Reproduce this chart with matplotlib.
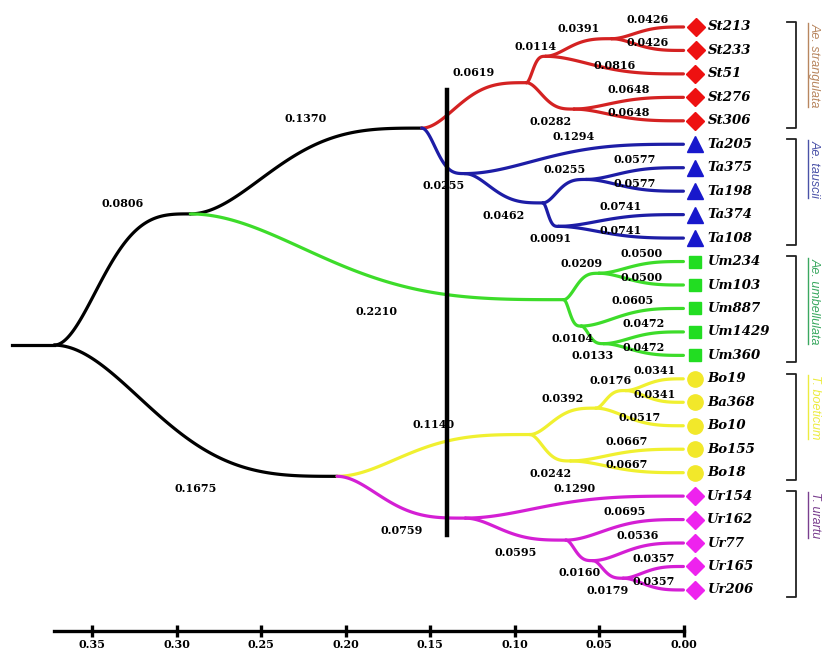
import numpy as np
import matplotlib
matplotlib.use("Agg")
import matplotlib.pyplot as plt
import matplotlib.transforms as mtransforms

# ---- tree data (Newick, branch lengths = distances) ----
group_names = ["Ae. strangulata", "Ae. tauscii", "Ae. umbellulata", "T. boeticum", "T. urartu"]
strangulata_nwk = "(((St213:0.0426,St233:0.0426):0.0391,St51:0.0816):0.0114,(St276:0.0648,St306:0.0648):0.0282)"
tauscii_nwk = "(Ta205:0.1294,((Ta375:0.0577,Ta198:0.0577):0.0255,(Ta374:0.0741,Ta108:0.0741):0.0091):0.0462)"
umbellulata_nwk = "((Um234:0.0500,Um103:0.0500):0.0209,(Um887:0.0605,(Um1429:0.0472,Um360:0.0472):0.0133):0.0104)"
boeticum_nwk = "(((Bo19:0.0341,Ba368:0.0341):0.0176,Bo10:0.0517):0.0392,(Bo155:0.0667,Bo18:0.0667):0.0242)"
urartu_nwk = "(Ur154:0.1290,(Ur162:0.0695,(Ur77:0.0536,(Ur165:0.0357,Ur206:0.0357):0.0179):0.0160):0.0595)"
group_stems = [0.0619, 0.0255, 0.2210, 0.1140, 0.0759]
ae_upper_stem = 0.1370   # strangulata + tauscii
ae_stem = 0.0806         # Aegilops clade
t_stem = 0.1675          # Triticum clade
scale_ticks = [0.35, 0.30, 0.25, 0.20, 0.15, 0.10, 0.05, 0.00]
cut_depth = 0.14

branch_colors = ["#d42222", "#1d1da6", "#3ddc2a", "#f0f030", "#d41fd4"]
marker_colors = ["#ee1111", "#1818cc", "#22dd22", "#f2e82a", "#ee22ee"]
marker_shapes = ["D", "^", "s", "o", "D"]
marker_sizes = [9, 11, 9, 11, 9]
label_colors = ["#b8865f", "#4a52a8", "#3aa860", "#ecec40", "#7a3f8f"]


def parse_newick(s):
    s = s.replace(" ", "")
    pos = 0

    def node():
        nonlocal pos
        children = []
        if s[pos] == "(":
            pos += 1
            while True:
                children.append(node())
                if s[pos] == ",":
                    pos += 1
                    continue
                if s[pos] == ")":
                    pos += 1
                    break
        start = pos
        while pos < len(s) and s[pos] not in ":,()":
            pos += 1
        name = s[start:pos]
        length = 0.0
        if pos < len(s) and s[pos] == ":":
            pos += 1
            start = pos
            while pos < len(s) and s[pos] not in ",()":
                pos += 1
            length = float(s[start:pos])
        return {"name": name, "length": length, "children": children}

    return node()


def paint(node, gi):
    node["group"] = gi
    for c in node["children"]:
        paint(c, gi)


groups = []
for gi, (nwk, stem) in enumerate(zip(
        [strangulata_nwk, tauscii_nwk, umbellulata_nwk, boeticum_nwk, urartu_nwk], group_stems)):
    g = parse_newick(nwk)
    g["length"] = stem
    paint(g, gi)
    groups.append(g)


def inner(children, length):
    return {"name": "", "length": length, "children": children, "group": None}


ae_upper = inner([groups[0], groups[1]], ae_upper_stem)
ae = inner([ae_upper, groups[2]], ae_stem)
tr = inner([groups[3], groups[4]], t_stem)
root = inner([ae, tr], 0.0)

# ---- layout ----
leaves = []


def layout(node, dist):
    node["dist"] = dist + node["length"]
    if not node["children"]:
        node["y"] = float(len(leaves))
        leaves.append(node)
    else:
        for c in node["children"]:
            layout(c, node["dist"])
        node["y"] = np.mean([c["y"] for c in node["children"]])


layout(root, 0.0)
depth = max(l["dist"] for l in leaves)


def set_x(node):
    node["x"] = depth - node["dist"]
    for c in node["children"]:
        set_x(c)


set_x(root)

# ---- figure ----
fig = plt.figure(figsize=(8.29, 6.5), dpi=100)
ax = fig.add_axes([0, 0, 1, 1])
ax.set_xlim(depth * 1.086, -depth * 0.231)
ax.set_ylim(26.56, -1.15)

num_font = dict(family="DejaVu Serif", fontweight="bold", fontsize=8)


def curve(x0, y0, x1, y1, n=100):
    # smooth S-shaped connector, horizontal at both ends, bend nearer the parent
    t = np.linspace(0, 1, n)
    u = 1 - (1 - t) ** 1.6
    s = 0.5 * (1 - np.cos(np.pi * u))
    return x0 + (x1 - x0) * t, y0 + (y1 - y0) * s


def draw(node):
    for i, c in enumerate(node["children"]):
        col = "black" if c["group"] is None else branch_colors[c["group"]]
        xs, ys = curve(node["x"], node["y"], c["x"], c["y"])
        ax.plot(xs, ys, color=col, lw=2.3, solid_capstyle="round", zorder=2)
        xm = 0.5 * (node["x"] + c["x"])
        if not c["children"]:
            yl = c["y"] - 0.34
        elif i == 0:
            yl = c["y"] - 0.43
        else:
            yl = c["y"] + 0.52
        ax.text(xm, yl, f"{c['length']:.4f}", ha="center", va="center", zorder=5, **num_font)
        draw(c)


draw(root)
# root stub
ax.plot([root["x"], root["x"] + 0.025], [root["y"], root["y"]], color="black", lw=2.3, zorder=2)

# cut line
ax.plot([cut_depth, cut_depth], [2.7, 21.65], color="black", lw=3.2, zorder=4)

# leaf markers and names
mk_tr = mtransforms.offset_copy(ax.transData, fig=fig, x=12, y=0, units="dots")
nm_tr = mtransforms.offset_copy(ax.transData, fig=fig, x=24, y=0, units="dots")
for lf in leaves:
    g = lf["group"]
    ax.plot([lf["x"]], [lf["y"]], marker=marker_shapes[g], ms=marker_sizes[g],
            color=marker_colors[g], mec=marker_colors[g], transform=mk_tr, zorder=6)
    ax.text(lf["x"], lf["y"], lf["name"], transform=nm_tr, ha="left", va="center",
            family="DejaVu Serif", fontweight="bold", style="italic", fontsize=9.5, zorder=6)

# group brackets and labels
br_x, br_tick = -0.0663, -0.0615
label_texts = []
for gi, name in enumerate(group_names):
    ys = [lf["y"] for lf in leaves if lf["group"] == gi]
    top, bot = min(ys) - 0.22, max(ys) + 0.3
    ax.plot([br_tick, br_x, br_x, br_tick], [top, top, bot, bot], color="#222222", lw=1.3, zorder=3)
    t = ax.text(-0.0776, top + 0.05, name, rotation=270, ha="center", va="top",
                color=label_colors[gi], style="italic", fontsize=9,
                family=["Liberation Sans Narrow", "Liberation Sans", "DejaVu Sans"])
    label_texts.append((t, label_colors[gi]))

# scale axis
ax.spines[["top", "right", "left"]].set_visible(False)
ax.spines["bottom"].set_position(("data", 25.75))
ax.spines["bottom"].set_bounds(0, depth)
ax.spines["bottom"].set_linewidth(2.4)
ax.set_xticks(scale_ticks)
ax.set_xticklabels([f"{v:.2f}" for v in scale_ticks], **num_font)
ax.tick_params(axis="x", direction="inout", length=9, width=2.4, pad=1)
ax.set_yticks([])
ax.patch.set_alpha(0)

# underline the rotated group names
fig.canvas.draw()
renderer = fig.canvas.get_renderer()
inv = fig.transFigure.inverted()
for t, col in label_texts:
    bb = t.get_window_extent(renderer)
    (fx0, fy0), (fx1, fy1) = inv.transform([(bb.x0 - 1, bb.y0), (bb.x0 - 1, bb.y1)])
    fig.add_artist(plt.Line2D([fx0, fx1], [fy0, fy1], color=col, lw=1.0))

fig.savefig("out.png", dpi=100, facecolor="white")
